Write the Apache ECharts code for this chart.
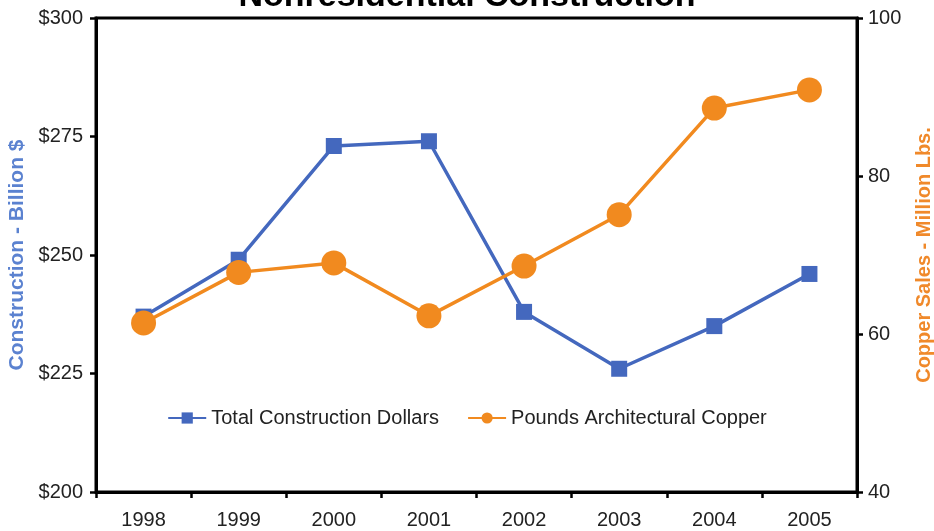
<!DOCTYPE html>
<html><head><meta charset="utf-8">
<script src="https://cdn.jsdelivr.net/npm/echarts@6/dist/echarts.min.js"></script>
<style>html,body{margin:0;padding:0;background:#fff}#c{width:934px;height:531px}</style>
</head><body><div id="c"></div>
<script>
const categories = ['1998','1999','2000','2001','2002','2003','2004','2005'];
const constructionDollars = [237, 249, 273, 274, 238, 226, 235, 246];
const copperPounds = [61.4, 67.8, 69.0, 62.3, 68.6, 75.1, 88.6, 90.9];
const leftTicks = [200, 225, 250, 275, 300];
const rightTicks = [40, 60, 80, 100];

const FONT = '"Liberation Sans", Arial, sans-serif';
const BLUE = '#4468BE';
const ORANGE = '#F18A1F';
const chart = echarts.init(document.getElementById('c'));
chart.setOption({
  animation: false,
  textStyle: { fontFamily: FONT },
  title: {
    text: 'Nonresidential Construction',
    left: 'center', top: -25,
    textStyle: { fontFamily: FONT, fontSize: 34, fontWeight: 'bold', color: '#000' }
  },
  legend: {
    top: 403, left: 'center',
    itemWidth: 38, itemHeight: 14, itemGap: 28,
    textStyle: { fontFamily: FONT, fontSize: 20, color: '#222' },
    data: ['Total Construction Dollars', 'Pounds Architectural Copper']
  },
  grid: { left: 96, right: 77, top: 18, bottom: 39, show: true, borderColor: '#000', borderWidth: 3,
          containLabel: false, outerBoundsMode: 'none' },
  xAxis: {
    type: 'category', data: categories,
    axisLine: { lineStyle: { color: '#000', width: 3 } },
    axisTick: { show: true, length: 6, lineStyle: { color: '#000', width: 2.5 } },
    axisLabel: { fontFamily: FONT, fontSize: 20, color: '#222', margin: 18 }
  },
  yAxis: [
    {
      type: 'value', min: leftTicks[0], max: leftTicks[leftTicks.length-1], interval: 25,
      name: 'Construction - Billion $', nameLocation: 'middle', nameGap: 68,
      nameTextStyle: { fontFamily: FONT, fontSize: 21, fontWeight: 'bold', color: '#5B82D0' },
      axisLine: { show: true, lineStyle: { color: '#000', width: 3 } },
      axisTick: { show: true, length: 6, lineStyle: { color: '#000', width: 2.5 } },
      splitLine: { show: false },
      axisLabel: { fontFamily: FONT, fontSize: 20, color: '#222', margin: 13, formatter: v => '$' + v }
    },
    {
      type: 'value', min: rightTicks[0], max: rightTicks[rightTicks.length-1], interval: 20,
      name: 'Copper Sales - Million Lbs.', nameLocation: 'middle', nameGap: 57, nameRotate: 90,
      nameTextStyle: { fontFamily: FONT, fontSize: 20, fontWeight: 'bold', color: '#F0892A' },
      axisLine: { show: true, lineStyle: { color: '#000', width: 3 } },
      axisTick: { show: true, length: 6, lineStyle: { color: '#000', width: 2.5 } },
      splitLine: { show: false },
      axisLabel: { fontFamily: FONT, fontSize: 20, color: '#222', margin: 11 }
    }
  ],
  series: [
    {
      name: 'Total Construction Dollars', type: 'line', yAxisIndex: 0,
      data: constructionDollars,
      symbol: 'rect', symbolSize: 16,
      lineStyle: { color: BLUE, width: 3.5 },
      itemStyle: { color: BLUE }
    },
    {
      name: 'Pounds Architectural Copper', type: 'line', yAxisIndex: 1,
      data: copperPounds,
      symbol: 'circle', symbolSize: 25,
      lineStyle: { color: ORANGE, width: 3.5 },
      itemStyle: { color: ORANGE }
    }
  ]
});
</script></body></html>
